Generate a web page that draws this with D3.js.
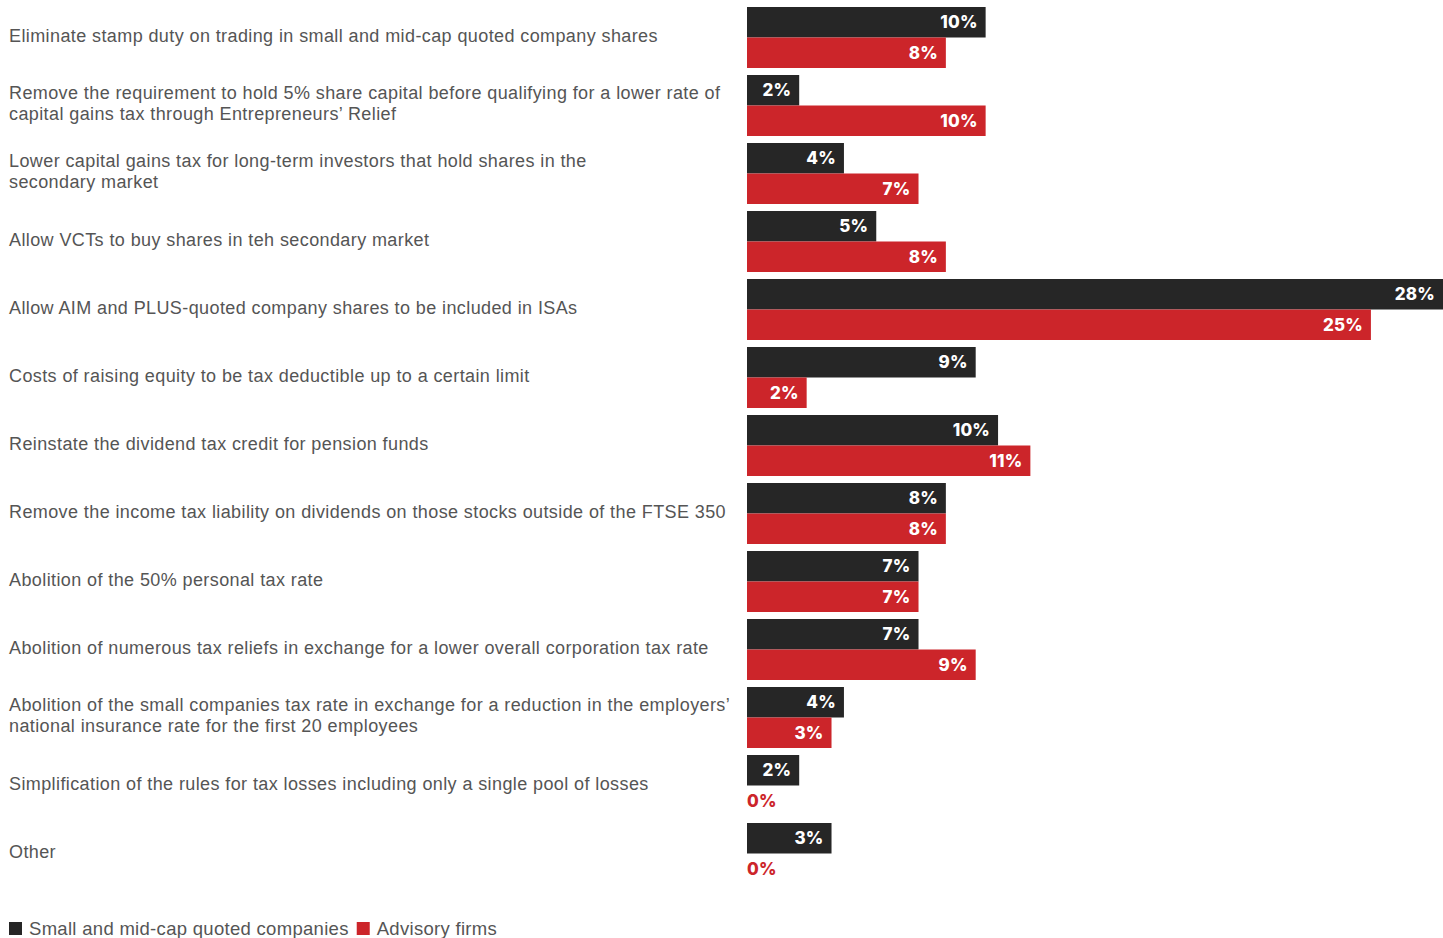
<!DOCTYPE html>
<html>
<head>
<meta charset="utf-8">
<script src="https://cdn.jsdelivr.net/npm/d3@7"></script>
<style>
  html, body { margin: 0; padding: 0; background: #fff; }
  svg { display: block; }
  .cat { font-family: "Liberation Sans", Arial, sans-serif; font-size: 18px; letter-spacing: 0.4px; fill: #555; }
  .val { font-family: Inter, "Open Sans", sans-serif; font-weight: 800; font-size: 17px; letter-spacing: 0.2px; }
  .legend { font-family: "Liberation Sans", Arial, sans-serif; font-size: 18.5px; letter-spacing: 0.3px; fill: #555; }
</style>
</head>
<body>
<div id="chart"></div>
<script>
const categories = [
  ['Eliminate stamp duty on trading in small and mid-cap quoted company shares'],
  ['Remove the requirement to hold 5% share capital before qualifying for a lower rate of', 'capital gains tax through Entrepreneurs\u2019 Relief'],
  ['Lower capital gains tax for long-term investors that hold shares in the', 'secondary market'],
  ['Allow VCTs to buy shares in teh secondary market'],
  ['Allow AIM and PLUS-quoted company shares to be included in ISAs'],
  ['Costs of raising equity to be tax deductible up to a certain limit'],
  ['Reinstate the dividend tax credit for pension funds'],
  ['Remove the income tax liability on dividends on those stocks outside of the FTSE 350'],
  ['Abolition of the 50% personal tax rate'],
  ['Abolition of numerous tax reliefs in exchange for a lower overall corporation tax rate'],
  ['Abolition of the small companies tax rate in exchange for a reduction in the employers\u2019', 'national insurance rate for the first 20 employees'],
  ['Simplification of the rules for tax losses including only a single pool of losses'],
  ['Other']
]

const seriesNames = ['Small and mid-cap quoted companies', 'Advisory firms']
const seriesColors = ['#262626', '#cc252a']

// share of respondents (%)
const quoted   = [9.6, 2.1, 3.9, 5.2, 28, 9.2, 10.1, 8.0, 6.9, 6.9, 3.9, 2.1, 3.4]
const advisory = [8.0, 9.6, 6.9, 8.0, 25.1, 2.4, 11.4, 8.0, 6.9, 9.2, 3.4, 0, 0]

const width = 1443
const height = 938

const data = categories.map((c, i) => ({ key: i, lines: c, values: [quoted[i], advisory[i]] }))

const svg = d3.select('#chart')
  .append('svg')
  .attr('width', width)
  .attr('height', height)

const x = d3.scaleLinear()
  .domain([0, 28])
  .range([747, 1443])

const y = d3.scaleBand()
  .domain(data.map(d => d.key))
  .range([7, 7 + 68 * data.length - 7])
  .paddingInner(7 / 68)
  .paddingOuter(0)

const ySub = d3.scaleBand()
  .domain([0, 1])
  .range([0, y.bandwidth()])

const fmt = d => d3.format('.0f')(d) + '%'

const groups = svg.selectAll('g.row')
  .data(data)
  .enter()
  .append('g')
  .attr('class', 'row')
  .attr('transform', d => `translate(0,${y(d.key)})`)

// category labels
groups.append('text')
  .attr('class', 'cat')
  .attr('x', 9)
  .attr('y', d => y.bandwidth() / 2 + 4 - (d.lines.length - 1) * 10.75)
  .selectAll('tspan')
  .data(d => d.lines)
  .enter()
  .append('tspan')
  .attr('x', 9)
  .attr('dy', (d, i) => i ? 21.5 : 0)
  .text(d => d)

const bars = groups.selectAll('g.bar')
  .data(d => d.values.map((v, s) => ({ v, s })))
  .enter()
  .append('g')
  .attr('class', 'bar')

bars.append('rect')
  .attr('x', x(0))
  .attr('y', d => ySub(d.s))
  .attr('width', d => x(d.v) - x(0))
  .attr('height', ySub.bandwidth())
  .attr('fill', d => seriesColors[d.s])

bars.append('text')
  .attr('class', 'val')
  .attr('x', d => d.v > 0 ? x(d.v) - 8 : x(0))
  .attr('y', d => ySub(d.s) + ySub.bandwidth() / 2)
  .attr('dy', '0.36em')
  .attr('text-anchor', d => d.v > 0 ? 'end' : 'start')
  .attr('fill', d => d.v > 0 ? '#fff' : seriesColors[d.s])
  .text(d => fmt(d.v))

// legend
const legend = svg.append('g')
  .attr('transform', 'translate(9,935)')

let lx = 0
seriesNames.forEach((name, i) => {
  const item = legend.append('g').attr('transform', `translate(${lx},0)`)
  item.append('rect')
    .attr('x', 0)
    .attr('y', -13)
    .attr('width', 13)
    .attr('height', 13)
    .attr('fill', seriesColors[i])
  const t = item.append('text')
    .attr('class', 'legend')
    .attr('x', 20)
    .attr('y', 0)
    .text(name)
  lx += 20 + t.node().getComputedTextLength() + 8
})
</script>
</body>
</html>
